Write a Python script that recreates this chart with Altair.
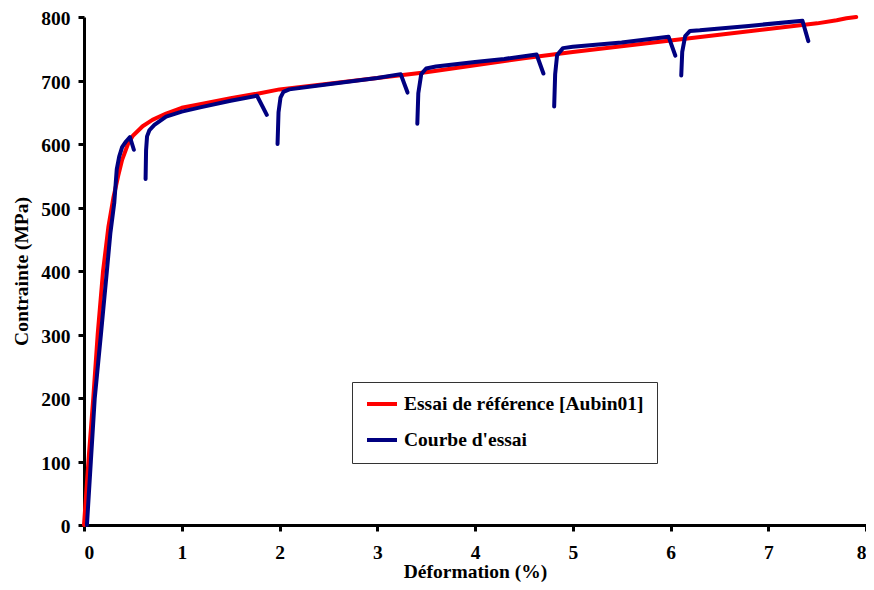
import altair as alt
import pandas as pd

REF = "Essai de référence [Aubin01]"
TEST = "Courbe d'essai"

ref_x = [0.0, 0.05, 0.095, 0.14, 0.195, 0.25, 0.30, 0.35, 0.39, 0.45, 0.50, 0.60, 0.70, 0.84,
         1.0, 1.2, 1.5, 1.8, 2.0, 2.5, 3.0, 3.5, 4.0, 4.5, 5.0, 5.5, 6.0, 6.5, 7.0, 7.5, 7.7, 7.8, 7.9]
ref_y = [0, 110, 200, 300, 400, 470, 515, 550, 575, 600, 613, 628, 638, 648,
         657, 663, 672, 680, 686, 695, 704, 713, 724, 735, 745, 754, 763, 772, 781, 790, 795, 798, 800]

seg1_x = [0.03, 0.07, 0.11, 0.173, 0.234, 0.27, 0.31, 0.335, 0.36, 0.39, 0.43, 0.47, 0.51]
seg1_y = [0, 100, 200, 300, 400, 460, 508, 560, 580, 595, 604, 611, 591]
seg2_x = [0.63, 0.635, 0.645, 0.67, 0.72, 0.84, 1.0, 1.2, 1.5, 1.77, 1.87]
seg2_y = [545, 590, 612, 622, 630, 643, 651, 658, 668, 676, 646]
seg3_x = [1.98, 1.99, 2.01, 2.04, 2.10, 2.5, 3.0, 3.24, 3.31]
seg3_y = [600, 650, 673, 682, 686, 694, 704, 710, 681]
seg4_x = [3.41, 3.42, 3.45, 3.50, 3.60, 4.0, 4.3, 4.63, 4.70]
seg4_y = [632, 680, 710, 719, 722, 729, 734, 741, 711]
seg5_x = [4.81, 4.82, 4.84, 4.90, 5.0, 5.5, 5.98, 6.05]
seg5_y = [659, 710, 740, 751, 753, 760, 769, 739]
seg6_x = [6.11, 6.12, 6.15, 6.20, 6.30, 6.8, 7.35, 7.41]
seg6_y = [708, 745, 770, 778, 779, 786, 794, 762]

segments = [(seg1_x, seg1_y), (seg2_x, seg2_y), (seg3_x, seg3_y),
            (seg4_x, seg4_y), (seg5_x, seg5_y), (seg6_x, seg6_y)]

df_ref = pd.DataFrame({"x": ref_x, "y": ref_y, "series": REF, "seg": 0,
                       "i": range(len(ref_x))})
rows = []
for k, (sx, sy) in enumerate(segments):
    for i, (a, b) in enumerate(zip(sx, sy)):
        rows.append({"x": a, "y": b, "series": TEST, "seg": k + 1, "i": i})
df_test = pd.DataFrame(rows)

FONT = "Liberation Serif"
FS = 19.5

xenc = alt.X("x:Q", scale=alt.Scale(domain=[0, 8], nice=False),
             axis=alt.Axis(values=list(range(0, 9)), format="d", title="Déformation (%)",
                           titleBaseline="alphabetic", titleY=52, labelFlush=True))
yenc = alt.Y("y:Q", scale=alt.Scale(domain=[0, 800], nice=False),
             axis=alt.Axis(values=list(range(0, 801, 100)), format="d", title="Contrainte (MPa)",
                           titlePadding=9, labelOffset=1.5))
color = alt.Color("series:N",
                  scale=alt.Scale(domain=[REF, TEST], range=["#FF0000", "#000080"]),
                  legend=alt.Legend(title=None, orient="none", legendX=268, legendY=365,
                                    direction="vertical"))

red = alt.Chart(df_ref).mark_line(strokeWidth=4, strokeCap="round", strokeJoin="round").encode(
    x=xenc, y=yenc, color=color, order="i:Q")
blue = alt.Chart(df_test).mark_line(strokeWidth=4, strokeCap="round", strokeJoin="round").encode(
    x=xenc, y=yenc, color=color, detail="seg:N", order="i:Q")

chart = alt.layer(red, blue).properties(
    width=782, height=508,
    autosize=alt.AutoSizeParams(type="none"),
    padding={"left": 76, "top": 9, "right": 0, "bottom": 57},
).configure_view(stroke="transparent").configure_axis(
    grid=False,
    domainColor="black", domainWidth=3,
    tickColor="black", tickWidth=3, tickSize=6,
    labelFont=FONT, labelFontSize=FS, labelFontWeight="bold", labelColor="black",
    titleFont=FONT, titleFontSize=FS, titleFontWeight="bold", titleColor="black",
    labelPadding=8,
).configure_axisX(labelPadding=12).configure_legend(
    padding=13, strokeColor="#333", fillColor="white",
    symbolType="stroke", symbolSize=900, symbolStrokeWidth=4,
    clipHeight=18,
    labelFont=FONT, labelFontSize=FS, labelFontWeight="bold", labelColor="black",
    labelOffset=5, rowPadding=16, labelLimit=400,
)

chart.save("out.html", embed_options={"renderer": "svg", "actions": False})
